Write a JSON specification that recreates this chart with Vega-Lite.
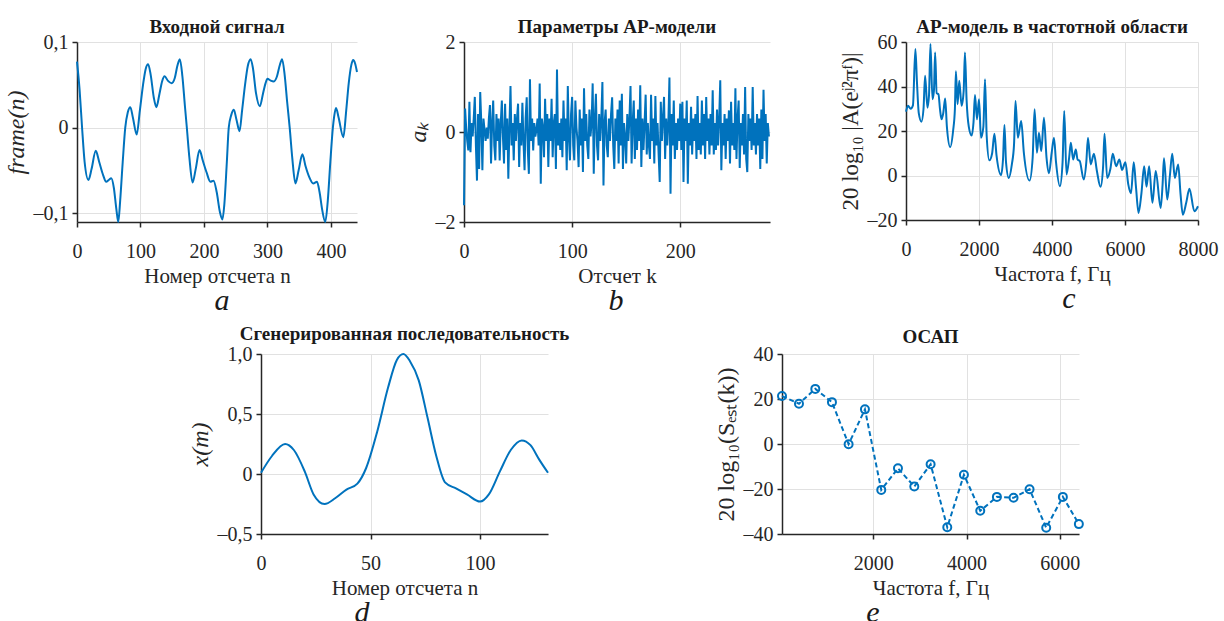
{
"$schema": "https://vega.github.io/schema/vega-lite/v6.json",
"padding": {"left": 4, "top": 18, "right": 5, "bottom": 5},
"background": "white",
"config": {
 "font": "Liberation Serif",
 "view": {"stroke": null},
 "axis": {"domainColor": "#262626", "domainWidth": 1.5, "tickColor": "#262626", "tickWidth": 1.5, "tickSize": 5, "labelFont": "Liberation Serif", "labelFontSize": 20, "labelColor": "#262626", "labelFlush": false, "labelOverlap": false, "titleFont": "Liberation Serif", "titleFontSize": 21, "titleFontWeight": "normal", "titleColor": "#262626", "gridColor": "#e1e1e1", "gridWidth": 1},
 "axisX": {"labelPadding": 14, "titlePadding": 4},
 "axisY": {"labelPadding": 4, "titlePadding": 5},
 "title": {"font": "Liberation Serif", "fontSize": 19, "fontWeight": "bold", "color": "#1a1a1a", "frame": "group", "offset": -5}
},
"datasets": {
 "sa": [{"n":0,"v":0.077},{"n":4,"v":0.045},{"n":8,"v":0.0},{"n":12,"v":-0.04},{"n":18,"v":-0.061},{"n":23,"v":-0.048},{"n":29.5,"v":-0.027},{"n":35,"v":-0.04},{"n":41,"v":-0.055},{"n":46,"v":-0.063},{"n":50,"v":-0.061},{"n":54,"v":-0.059},{"n":58,"v":-0.07},{"n":62,"v":-0.095},{"n":65,"v":-0.11},{"n":68,"v":-0.085},{"n":72,"v":-0.04},{"n":76,"v":0.0},{"n":80,"v":0.018},{"n":84,"v":0.024},{"n":88,"v":0.012},{"n":94,"v":-0.008},{"n":99,"v":0.02},{"n":104,"v":0.05},{"n":108,"v":0.068},{"n":112,"v":0.074},{"n":116,"v":0.062},{"n":121,"v":0.035},{"n":125,"v":0.024},{"n":130,"v":0.04},{"n":134,"v":0.054},{"n":138,"v":0.06},{"n":143,"v":0.055},{"n":149,"v":0.052},{"n":154,"v":0.058},{"n":158,"v":0.072},{"n":162,"v":0.08},{"n":166,"v":0.06},{"n":170,"v":0.025},{"n":173,"v":0.0},{"n":177,"v":-0.035},{"n":182,"v":-0.064},{"n":187,"v":-0.048},{"n":193,"v":-0.026},{"n":198,"v":-0.038},{"n":204,"v":-0.052},{"n":210,"v":-0.063},{"n":215,"v":-0.062},{"n":220,"v":-0.075},{"n":225,"v":-0.098},{"n":229,"v":-0.107},{"n":232,"v":-0.09},{"n":236,"v":-0.04},{"n":239,"v":0.0},{"n":243,"v":0.015},{"n":247,"v":0.021},{"n":251,"v":0.01},{"n":256,"v":-0.004},{"n":260,"v":0.02},{"n":265,"v":0.052},{"n":269,"v":0.072},{"n":273.5,"v":0.08},{"n":277,"v":0.07},{"n":282,"v":0.04},{"n":288,"v":0.025},{"n":293,"v":0.04},{"n":297,"v":0.052},{"n":300,"v":0.057},{"n":305,"v":0.055},{"n":310,"v":0.054},{"n":315,"v":0.06},{"n":319,"v":0.072},{"n":323,"v":0.08},{"n":327,"v":0.062},{"n":331,"v":0.03},{"n":335,"v":0.0},{"n":339,"v":-0.035},{"n":344,"v":-0.065},{"n":349,"v":-0.05},{"n":355,"v":-0.031},{"n":360,"v":-0.045},{"n":366,"v":-0.058},{"n":372,"v":-0.065},{"n":378,"v":-0.063},{"n":382,"v":-0.075},{"n":386,"v":-0.095},{"n":391,"v":-0.11},{"n":395,"v":-0.085},{"n":399,"v":-0.04},{"n":403,"v":0.0},{"n":405,"v":0.013},{"n":408,"v":0.023},{"n":412,"v":0.012},{"n":419.5,"v":-0.011},{"n":424,"v":0.02},{"n":428,"v":0.052},{"n":432,"v":0.073},{"n":435,"v":0.079},{"n":438,"v":0.075},{"n":441,"v":0.065}],
 "sb": [{"k":0,"v":-1.63},{"k":1,"v":0.52},{"k":2,"v":0.1},{"k":3,"v":-0.2},{"k":4,"v":-0.41},{"k":5,"v":0.67},{"k":6,"v":-0.45},{"k":7,"v":0.2},{"k":8,"v":-0.1},{"k":9,"v":0.3},{"k":10,"v":0.78},{"k":11,"v":-0.3},{"k":12,"v":-1.08},{"k":13,"v":0.4},{"k":14,"v":-0.82},{"k":15,"v":0.89},{"k":16,"v":0.2},{"k":17,"v":-0.85},{"k":18,"v":0.3},{"k":19,"v":0.05},{"k":20,"v":-0.2},{"k":21,"v":0.1},{"k":22,"v":-0.15},{"k":23,"v":0.3},{"k":24,"v":0.6},{"k":25,"v":-0.7},{"k":26,"v":0.2},{"k":27,"v":0.7},{"k":28,"v":-0.3},{"k":29,"v":-0.63},{"k":30,"v":0.4},{"k":31,"v":-0.2},{"k":32,"v":0.3},{"k":33,"v":-0.63},{"k":34,"v":0.2},{"k":35,"v":0.7},{"k":36,"v":-0.1},{"k":37,"v":-0.7},{"k":38,"v":0.63},{"k":39,"v":-0.4},{"k":40,"v":0.3},{"k":41,"v":-1.04},{"k":42,"v":0.1},{"k":43,"v":1.02},{"k":44,"v":-0.3},{"k":45,"v":0.2},{"k":46,"v":-0.63},{"k":47,"v":0.4},{"k":48,"v":-0.2},{"k":49,"v":0.3},{"k":50,"v":0.63},{"k":51,"v":-0.78},{"k":52,"v":0.2},{"k":53,"v":-0.3},{"k":54,"v":0.65},{"k":55,"v":-0.2},{"k":56,"v":-0.85},{"k":57,"v":0.3},{"k":58,"v":0.77},{"k":59,"v":-0.4},{"k":60,"v":-0.93},{"k":61,"v":1.17},{"k":62,"v":-0.2},{"k":63,"v":0.3},{"k":64,"v":-0.41},{"k":65,"v":0.2},{"k":66,"v":-0.1},{"k":67,"v":0.05},{"k":68,"v":0.3},{"k":69,"v":-0.3},{"k":70,"v":1.08},{"k":71,"v":-1.15},{"k":72,"v":0.3},{"k":73,"v":0.1},{"k":74,"v":-0.56},{"k":75,"v":0.74},{"k":76,"v":-0.2},{"k":77,"v":0.4},{"k":78,"v":-0.78},{"k":79,"v":0.3},{"k":80,"v":-0.2},{"k":81,"v":0.74},{"k":82,"v":-0.56},{"k":83,"v":0.2},{"k":84,"v":0.4},{"k":85,"v":-0.82},{"k":86,"v":1.39},{"k":87,"v":-0.3},{"k":88,"v":0.2},{"k":89,"v":-0.4},{"k":90,"v":0.3},{"k":91,"v":-0.56},{"k":92,"v":0.7},{"k":93,"v":-0.2},{"k":94,"v":0.3},{"k":95,"v":-0.85},{"k":96,"v":1.02},{"k":97,"v":-0.1},{"k":98,"v":-0.63},{"k":99,"v":0.4},{"k":100,"v":0.78},{"k":101,"v":-0.3},{"k":102,"v":-0.63},{"k":103,"v":0.7},{"k":104,"v":0.1},{"k":105,"v":-0.2},{"k":106,"v":-0.78},{"k":107,"v":0.5},{"k":108,"v":-0.3},{"k":109,"v":0.3},{"k":110,"v":-0.89},{"k":111,"v":0.97},{"k":112,"v":-0.2},{"k":113,"v":0.4},{"k":114,"v":-0.3},{"k":115,"v":-0.6},{"k":116,"v":0.5},{"k":117,"v":-0.1},{"k":118,"v":0.2},{"k":119,"v":1.08},{"k":120,"v":-0.93},{"k":121,"v":0.3},{"k":122,"v":0.85},{"k":123,"v":-0.3},{"k":124,"v":-0.63},{"k":125,"v":0.4},{"k":126,"v":-0.2},{"k":127,"v":0.3},{"k":128,"v":1.11},{"k":129,"v":-1.19},{"k":130,"v":0.2},{"k":131,"v":0.5},{"k":132,"v":-0.3},{"k":133,"v":-0.56},{"k":134,"v":0.3},{"k":135,"v":-0.2},{"k":136,"v":0.4},{"k":137,"v":0.77},{"k":138,"v":-0.3},{"k":139,"v":-0.82},{"k":140,"v":0.3},{"k":141,"v":-0.2},{"k":142,"v":0.5},{"k":143,"v":-0.7},{"k":144,"v":0.7},{"k":145,"v":-0.3},{"k":146,"v":0.85},{"k":147,"v":-0.82},{"k":148,"v":0.2},{"k":149,"v":-0.1},{"k":150,"v":-0.7},{"k":151,"v":0.4},{"k":152,"v":-0.2},{"k":153,"v":0.3},{"k":154,"v":1.02},{"k":155,"v":-0.7},{"k":156,"v":0.2},{"k":157,"v":0.7},{"k":158,"v":-0.6},{"k":159,"v":0.3},{"k":160,"v":-0.4},{"k":161,"v":0.5},{"k":162,"v":-0.2},{"k":163,"v":1.04},{"k":164,"v":-0.78},{"k":165,"v":0.3},{"k":166,"v":-0.4},{"k":167,"v":0.2},{"k":168,"v":0.83},{"k":169,"v":-0.5},{"k":170,"v":0.2},{"k":171,"v":-0.3},{"k":172,"v":-0.6},{"k":173,"v":0.83},{"k":174,"v":-0.2},{"k":175,"v":0.3},{"k":176,"v":-0.7},{"k":177,"v":0.8},{"k":178,"v":-0.3},{"k":179,"v":0.2},{"k":180,"v":-0.5},{"k":181,"v":-1.11},{"k":182,"v":0.67},{"k":183,"v":-0.2},{"k":184,"v":0.3},{"k":185,"v":0.78},{"k":186,"v":-0.6},{"k":187,"v":0.3},{"k":188,"v":-0.3},{"k":189,"v":0.2},{"k":190,"v":1.21},{"k":191,"v":-1.37},{"k":192,"v":0.4},{"k":193,"v":-0.3},{"k":194,"v":0.7},{"k":195,"v":-0.6},{"k":196,"v":0.2},{"k":197,"v":-0.4},{"k":198,"v":0.3},{"k":199,"v":-0.2},{"k":200,"v":0.63},{"k":201,"v":-0.4},{"k":202,"v":0.67},{"k":203,"v":-1.11},{"k":204,"v":0.3},{"k":205,"v":-0.2},{"k":206,"v":0.7},{"k":207,"v":-1.15},{"k":208,"v":0.2},{"k":209,"v":-0.3},{"k":210,"v":0.56},{"k":211,"v":-0.5},{"k":212,"v":0.3},{"k":213,"v":-0.2},{"k":214,"v":0.4},{"k":215,"v":-0.6},{"k":216,"v":0.8},{"k":217,"v":-0.4},{"k":218,"v":0.2},{"k":219,"v":-0.5},{"k":220,"v":0.7},{"k":221,"v":-0.3},{"k":222,"v":0.4},{"k":223,"v":-0.6},{"k":224,"v":0.78},{"k":225,"v":-0.2},{"k":226,"v":0.3},{"k":227,"v":-0.5},{"k":228,"v":0.4},{"k":229,"v":-0.3},{"k":230,"v":0.93},{"k":231,"v":-0.5},{"k":232,"v":0.2},{"k":233,"v":-0.4},{"k":234,"v":0.5},{"k":235,"v":-0.3},{"k":236,"v":0.3},{"k":237,"v":1.15},{"k":238,"v":-0.85},{"k":239,"v":0.2},{"k":240,"v":-0.3},{"k":241,"v":0.4},{"k":242,"v":-0.6},{"k":243,"v":0.3},{"k":244,"v":-0.2},{"k":245,"v":0.48},{"k":246,"v":-0.7},{"k":247,"v":0.67},{"k":248,"v":-0.3},{"k":249,"v":0.2},{"k":250,"v":-0.4},{"k":251,"v":0.97},{"k":252,"v":-0.6},{"k":253,"v":0.3},{"k":254,"v":0.7},{"k":255,"v":-0.8},{"k":256,"v":0.2},{"k":257,"v":-0.3},{"k":258,"v":0.4},{"k":259,"v":-0.5},{"k":260,"v":1.0},{"k":261,"v":-0.6},{"k":262,"v":-0.89},{"k":263,"v":0.4},{"k":264,"v":-0.2},{"k":265,"v":0.3},{"k":266,"v":-0.4},{"k":267,"v":1.0},{"k":268,"v":-0.3},{"k":269,"v":0.2},{"k":270,"v":-0.5},{"k":271,"v":0.4},{"k":272,"v":-0.3},{"k":273,"v":0.3},{"k":274,"v":-0.82},{"k":275,"v":0.5},{"k":276,"v":-0.6},{"k":277,"v":0.94},{"k":278,"v":-0.2},{"k":279,"v":0.4},{"k":280,"v":-0.7},{"k":281,"v":0.2},{"k":282,"v":-0.1}],
 "sc": [{"f":0,"v":28.7},{"f":55,"v":31.3},{"f":128,"v":30.0},{"f":190,"v":31.5},{"f":257,"v":56.8},{"f":300,"v":42},{"f":350,"v":28},{"f":422,"v":24.2},{"f":480,"v":30},{"f":523,"v":44.8},{"f":587,"v":30.5},{"f":630,"v":36},{"f":670,"v":59.1},{"f":725,"v":34.3},{"f":765,"v":38},{"f":798,"v":55.3},{"f":840,"v":37},{"f":890,"v":36.5},{"f":930,"v":30},{"f":972,"v":25.3},{"f":1020,"v":28},{"f":1073,"v":34.6},{"f":1120,"v":22},{"f":1211,"v":12.8},{"f":1290,"v":20},{"f":1340,"v":30},{"f":1367,"v":46.8},{"f":1413,"v":32},{"f":1459,"v":42.6},{"f":1523,"v":31.3},{"f":1580,"v":38},{"f":1615,"v":55.3},{"f":1660,"v":34},{"f":1720,"v":22},{"f":1798,"v":18.0},{"f":1850,"v":24},{"f":1890,"v":36.2},{"f":1945,"v":25.3},{"f":2000,"v":34.3},{"f":2055,"v":17.0},{"f":2120,"v":22},{"f":2165,"v":43.3},{"f":2210,"v":18},{"f":2284,"v":6.8},{"f":2360,"v":10},{"f":2422,"v":18.8},{"f":2480,"v":9},{"f":2605,"v":0.2},{"f":2660,"v":8},{"f":2697,"v":22.7},{"f":2740,"v":6},{"f":2816,"v":-1.1},{"f":2900,"v":5},{"f":2960,"v":14},{"f":3000,"v":33.5},{"f":3064,"v":17.0},{"f":3156,"v":24.5},{"f":3230,"v":10},{"f":3385,"v":-2.3},{"f":3470,"v":8},{"f":3523,"v":29.8},{"f":3587,"v":10.2},{"f":3642,"v":19.2},{"f":3706,"v":11.0},{"f":3780,"v":26.0},{"f":3850,"v":8},{"f":3918,"v":1.0},{"f":3990,"v":10},{"f":4054,"v":17.0},{"f":4110,"v":6},{"f":4217,"v":-4.8},{"f":4290,"v":6},{"f":4335,"v":29.0},{"f":4398,"v":0.5},{"f":4470,"v":8},{"f":4516,"v":14.7},{"f":4579,"v":7.2},{"f":4652,"v":11.7},{"f":4700,"v":7.2},{"f":4760,"v":6.5},{"f":4869,"v":-1.8},{"f":4940,"v":6},{"f":4986,"v":17.0},{"f":5059,"v":5.0},{"f":5149,"v":9.8},{"f":5230,"v":2},{"f":5330,"v":-5.1},{"f":5400,"v":4},{"f":5439,"v":18.8},{"f":5511,"v":-1.1},{"f":5600,"v":3},{"f":5665,"v":9.8},{"f":5756,"v":4.2},{"f":5846,"v":7.2},{"f":5920,"v":2.5},{"f":6010,"v":6.0},{"f":6090,"v":-4},{"f":6164,"v":-8},{"f":6240,"v":6.0},{"f":6300,"v":-5},{"f":6371,"v":-16.8},{"f":6450,"v":-8},{"f":6525,"v":4.2},{"f":6590,"v":-5},{"f":6661,"v":4.2},{"f":6751,"v":-12.3},{"f":6842,"v":2.0},{"f":6977,"v":-14.6},{"f":7030,"v":-4},{"f":7068,"v":7.7},{"f":7158,"v":-10.8},{"f":7230,"v":0},{"f":7294,"v":9.8},{"f":7366,"v":-1.1},{"f":7457,"v":5.0},{"f":7520,"v":-8},{"f":7584,"v":-17.6},{"f":7680,"v":-12},{"f":7765,"v":-5.9},{"f":7900,"v":-16.1},{"f":8000,"v":-13.8}],
 "sd": [{"n":0,"v":0.01},{"n":5,"v":0.15},{"n":11,"v":0.25},{"n":15,"v":0.2},{"n":20,"v":0.02},{"n":24,"v":-0.17},{"n":29,"v":-0.25},{"n":34,"v":-0.2},{"n":39,"v":-0.13},{"n":44,"v":-0.08},{"n":48,"v":0.05},{"n":53,"v":0.35},{"n":58,"v":0.72},{"n":62,"v":0.95},{"n":65,"v":1.0},{"n":68,"v":0.94},{"n":72,"v":0.78},{"n":76,"v":0.47},{"n":80,"v":0.15},{"n":84,"v":-0.07},{"n":89,"v":-0.12},{"n":94,"v":-0.17},{"n":100,"v":-0.23},{"n":104,"v":-0.17},{"n":109,"v":0.02},{"n":114,"v":0.2},{"n":119,"v":0.28},{"n":123,"v":0.24},{"n":127,"v":0.12},{"n":131,"v":0.01}],
 "se": [{"f":43,"v":21.3},{"f":407,"v":17.9},{"f":757,"v":24.5},{"f":1114,"v":18.6},{"f":1471,"v":-0.1},{"f":1821,"v":15.4},{"f":2171,"v":-20.4},{"f":2529,"v":-10.8},{"f":2879,"v":-18.9},{"f":3229,"v":-9.0},{"f":3586,"v":-37.0},{"f":3943,"v":-13.7},{"f":4293,"v":-29.7},{"f":4650,"v":-23.5},{"f":5007,"v":-23.9},{"f":5350,"v":-20.1},{"f":5707,"v":-37.2},{"f":6064,"v":-23.5},{"f":6407,"v":-35.6}]
},
"vconcat": [
 {"hconcat": [
   {"vconcat": [{
     "width": 280, "height": 180,
     "title": {"text": "Входной сигнал"},
     "data": {"name": "sa"},
     "mark": {"type": "line", "interpolate": "monotone", "color": "#0072BD", "strokeWidth": 2},
     "encoding": {
       "x": {"field": "n", "type": "quantitative", "scale": {"domain": [0, 441], "nice": false, "zero": false}, "axis": {"values": [0,100,200,300,400], "format": "d", "title": "Номер отсчета  n"}},
       "y": {"field": "v", "type": "quantitative", "scale": {"domain": [-0.11, 0.1], "nice": false, "zero": false}, "axis": {"values": [-0.1,0,0.1], "title": "frame(n)", "titleFontStyle": "italic", "titleFontSize": 24, "labelExpr": "datum.value === 0 ? '0' : replace(replace(replace(format(datum.value, '.1f'), '.', ','), '-', '–'), '−', '–')"}}
     }}],
    "title": {"text": "a", "orient": "bottom", "anchor": "middle", "dx": 145, "fontStyle": "italic", "fontWeight": "normal", "fontSize": 30, "offset": 0}
   },
   {"hconcat": [
     {"vconcat": [{
       "width": 306, "height": 180,
       "title": {"text": "Параметры АР-модели"},
       "data": {"name": "sb"},
       "mark": {"type": "line", "color": "#0072BD", "strokeWidth": 2},
       "encoding": {
         "x": {"field": "k", "type": "quantitative", "scale": {"domain": [0, 283], "nice": false, "zero": false}, "axis": {"values": [0,100,200], "format": "d", "title": "Отсчет  k"}},
         "y": {"field": "v", "type": "quantitative", "scale": {"domain": [-2, 2], "nice": false}, "axis": {"values": [-2,0,2], "title": "aₖ", "titleFontStyle": "italic", "titleFontSize": 24, "labelExpr": "replace(replace(format(datum.value, 'd'), '-', '–'), '−', '–')"}}
       }}],
      "title": {"text": "b", "orient": "bottom", "anchor": "middle", "dx": 152, "fontStyle": "italic", "fontWeight": "normal", "fontSize": 30, "offset": 0}
     },
     {"vconcat": [{
       "width": 292, "height": 178,
       "title": {"text": "АР-модель в частотной области"},
       "data": {"name": "sc"},
       "mark": {"type": "line", "interpolate": "monotone", "color": "#0072BD", "strokeWidth": 2},
       "encoding": {
         "x": {"field": "f", "type": "quantitative", "scale": {"domain": [0, 8000], "nice": false, "zero": false}, "axis": {"values": [0,2000,4000,6000,8000], "format": "d", "title": "Частота  f, Гц"}},
         "y": {"field": "v", "type": "quantitative", "scale": {"domain": [-20, 60], "nice": false}, "axis": {"values": [-20,0,20,40,60], "title": "20 log₁₀ |A(eʲ²πᶠ)|", "titleFontSize": 23, "labelExpr": "replace(replace(format(datum.value, 'd'), '-', '–'), '−', '–')"}}
       }}],
      "title": {"text": "c", "orient": "bottom", "anchor": "middle", "dx": 163, "fontStyle": "italic", "fontWeight": "normal", "fontSize": 30, "offset": 0}
     }
   ], "spacing": 66}
 ], "spacing": 45},
 {"hconcat": [
   {"width": 91, "height": 10, "data": {"values": [{"z": 0}]}, "mark": {"type": "point", "opacity": 0}, "encoding": {}},
   {"hconcat": [
     {"vconcat": [{
       "width": 287, "height": 180,
       "title": {"text": "Сгенерированная последовательность", "offset": 0},
       "data": {"name": "sd"},
       "mark": {"type": "line", "interpolate": "monotone", "color": "#0072BD", "strokeWidth": 2},
       "encoding": {
         "x": {"field": "n", "type": "quantitative", "scale": {"domain": [0, 131], "nice": false, "zero": false}, "axis": {"values": [0,50,100], "format": "d", "title": "Номер отсчета  n"}},
         "y": {"field": "v", "type": "quantitative", "scale": {"domain": [-0.5, 1], "nice": false}, "axis": {"values": [-0.5,0,0.5,1], "title": "x(m)", "titleFontStyle": "italic", "titleFontSize": 24, "labelExpr": "datum.value === 0 ? '0' : replace(replace(replace(format(datum.value, '.1f'), '.', ','), '-', '–'), '−', '–')"}}
       }}],
      "title": {"text": "d", "orient": "bottom", "anchor": "middle", "dx": 101, "fontStyle": "italic", "fontWeight": "normal", "fontSize": 30, "offset": 0}
     },
     {"vconcat": [{
       "width": 297, "height": 180,
       "title": {"text": "ОСАП", "offset": -3},
       "data": {"name": "se"},
       "encoding": {
         "x": {"field": "f", "type": "quantitative", "scale": {"domain": [43, 6410], "nice": false, "zero": false}, "axis": {"values": [2000,4000,6000], "format": "d", "title": "Частота  f, Гц"}},
         "y": {"field": "v", "type": "quantitative", "scale": {"domain": [-40, 40], "nice": false}, "axis": {"values": [-40,-20,0,20,40], "title": "20 log₁₀(Sₑₛₜ(k))", "titleFontSize": 24, "labelExpr": "replace(replace(format(datum.value, 'd'), '-', '–'), '−', '–')"}}
       },
       "layer": [
         {"mark": {"type": "line", "color": "#0072BD", "strokeWidth": 2, "strokeDash": [5, 3]}},
         {"mark": {"type": "point", "shape": "circle", "filled": false, "color": "#0072BD", "strokeWidth": 2, "size": 64, "opacity": 1}}
       ]}],
      "title": {"text": "e", "orient": "bottom", "anchor": "middle", "dx": 91, "fontStyle": "italic", "fontWeight": "normal", "fontSize": 30, "offset": 0}
     }
   ], "spacing": 144}
 ], "spacing": 20}
], "spacing": 9}
